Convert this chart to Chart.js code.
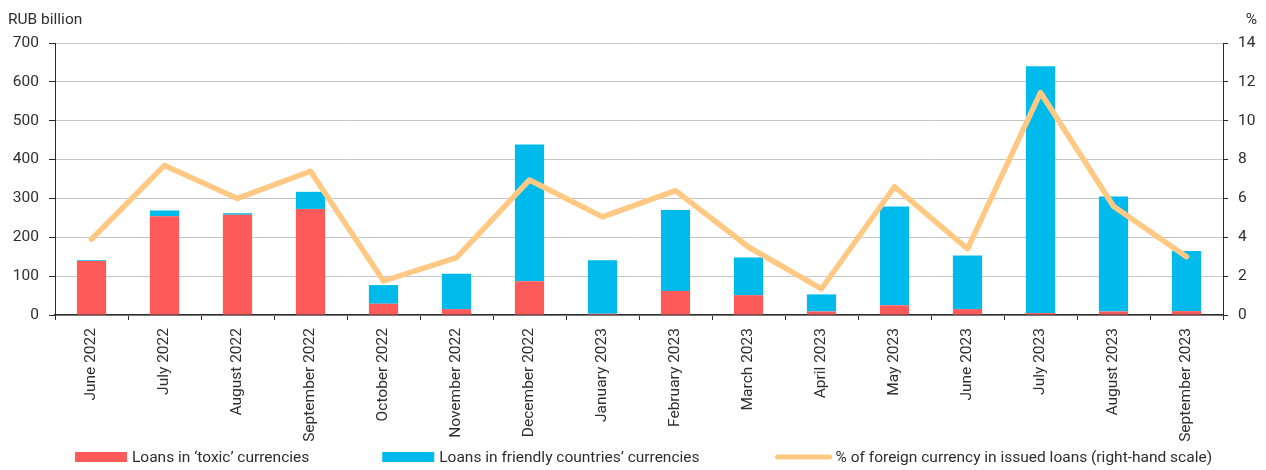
<!DOCTYPE html>
<html lang="en">
<head>
  <meta charset="UTF-8">
  <title>Foreign currency loans, RUB billion</title>
  <style>
    html, body { margin: 0; padding: 0; background: #ffffff; }
    .chart-box { position: relative; width: 1266px; height: 470px; }
  </style>
</head>
<body>
  <div class="chart-box">
    <canvas id="loansChart"></canvas>
  </div>

  <script src="https://cdn.jsdelivr.net/npm/chart.js"></script>
  <script>
    // Months on the x axis
    const months = [
      'June 2022', 'July 2022', 'August 2022', 'September 2022', 'October 2022',
      'November 2022', 'December 2022', 'January 2023', 'February 2023', 'March 2023',
      'April 2023', 'May 2023', 'June 2023', 'July 2023', 'August 2023', 'September 2023'
    ];

    // RUB billion
    const toxicLoans = [139, 254, 258, 273, 29, 15, 87, 3, 62, 51, 9, 25, 15, 5, 9, 10];
    const friendlyLoans = [2, 15, 4, 44, 48, 91, 352, 138, 208, 97, 44, 254, 138, 635, 296, 155];

    // % of foreign currency in issued loans (right-hand scale)
    const foreignShare = [3.9, 7.7, 6.0, 7.4, 1.75, 2.95, 6.95, 5.05, 6.4, 3.5, 1.35, 6.6, 3.4, 11.45, 5.6, 3.0];

    const seriesLabels = [
      'Loans in \u2018toxic\u2019 currencies',
      'Loans in friendly countries\u2019 currencies',
      '% of foreign currency in issued loans (right-hand scale)'
    ];

    const textColor = '#2e2e2e';
    const axisColor = '#2b2b2b';
    const fontFamily = 'Roboto, "Noto Sans", sans-serif';
    const fontSize = 15.5;

    // axis unit captions above both y axes
    const unitCaptions = {
      id: 'unitCaptions',
      afterDraw(chart) {
        const ctx = chart.ctx;
        ctx.save();
        ctx.fillStyle = textColor;
        ctx.font = fontSize + 'px ' + fontFamily;
        ctx.textBaseline = 'alphabetic';
        ctx.textAlign = 'left';
        ctx.fillText('RUB billion', 8, 24);
        ctx.textAlign = 'right';
        ctx.fillText('%', chart.width - 9, 24);
        ctx.restore();
      }
    };

    // bottom legend with wide, evenly spaced items
    const bottomLegend = {
      id: 'bottomLegend',
      afterDraw(chart) {
        const ctx = chart.ctx;
        const y = 457;
        const gap = 73;
        const boxW = 52;
        let x = 75;
        ctx.save();
        ctx.font = fontSize + 'px ' + fontFamily;
        ctx.textBaseline = 'middle';
        ctx.textAlign = 'left';
        chart.data.datasets.forEach((ds) => {
          if (ds.type === 'line') {
            ctx.strokeStyle = ds.borderColor;
            ctx.lineWidth = 5;
            ctx.lineCap = 'round';
            ctx.beginPath();
            ctx.moveTo(x + 5, y);
            ctx.lineTo(x + 57, y);
            ctx.stroke();
            x += 63;
          } else {
            ctx.fillStyle = ds.backgroundColor;
            ctx.fillRect(x, y - 5, boxW, 10);
            x += boxW + 5;
          }
          ctx.fillStyle = textColor;
          ctx.fillText(ds.label, x, y + 1);
          x += ctx.measureText(ds.label).width + gap;
        });
        ctx.restore();
      }
    };

    const ctx = document.getElementById('loansChart').getContext('2d');

    new Chart(ctx, {
      data: {
        labels: months,
        datasets: [
          {
            type: 'bar',
            label: seriesLabels[0],
            data: toxicLoans,
            yAxisID: 'y',
            backgroundColor: '#FF5A5A',
            barPercentage: 0.4,
            categoryPercentage: 1,
            order: 1
          },
          {
            type: 'bar',
            label: seriesLabels[1],
            data: friendlyLoans,
            yAxisID: 'y',
            backgroundColor: '#00BAEB',
            barPercentage: 0.4,
            categoryPercentage: 1,
            order: 1
          },
          {
            type: 'line',
            label: seriesLabels[2],
            data: foreignShare,
            yAxisID: 'y2',
            borderColor: '#FFC984',
            backgroundColor: '#FFC984',
            borderWidth: 5.5,
            borderCapStyle: 'round',
            borderJoinStyle: 'round',
            pointRadius: 0,
            tension: 0,
            order: 0
          }
        ]
      },
      options: {
        responsive: true,
        maintainAspectRatio: false,
        animation: false,
        layout: { padding: { top: 43, left: 0, right: 0, bottom: 0 } },
        plugins: {
          legend: { display: false },
          tooltip: { enabled: false }
        },
        scales: {
          x: {
            stacked: true,
            offset: true,
            afterFit: (scale) => { scale.height = 155; },
            grid: {
              offset: true,
              drawOnChartArea: false,
              drawTicks: true,
              tickLength: 5,
              tickColor: axisColor
            },
            border: { color: axisColor, width: 1.5 },
            ticks: {
              autoSkip: false,
              minRotation: 90,
              maxRotation: 90,
              padding: 8,
              color: textColor,
              font: { family: fontFamily, size: fontSize }
            }
          },
          y: {
            stacked: true,
            position: 'left',
            min: 0,
            max: 700,
            afterFit: (scale) => { scale.width = 55; },
            grid: {
              color: '#c6c6c6',
              lineWidth: 1,
              tickLength: 6,
              tickColor: axisColor
            },
            border: { color: axisColor, width: 1 },
            ticks: {
              stepSize: 100,
              padding: 10,
              color: textColor,
              font: { family: fontFamily, size: fontSize }
            }
          },
          y2: {
            position: 'right',
            min: 0,
            max: 14,
            afterFit: (scale) => { scale.width = 43; },
            grid: {
              drawOnChartArea: false,
              tickLength: 5,
              tickColor: axisColor
            },
            border: { color: axisColor, width: 1 },
            ticks: {
              stepSize: 2,
              padding: 10,
              color: textColor,
              font: { family: fontFamily, size: fontSize }
            }
          }
        }
      },
      plugins: [unitCaptions, bottomLegend]
    });
  </script>
</body>
</html>
